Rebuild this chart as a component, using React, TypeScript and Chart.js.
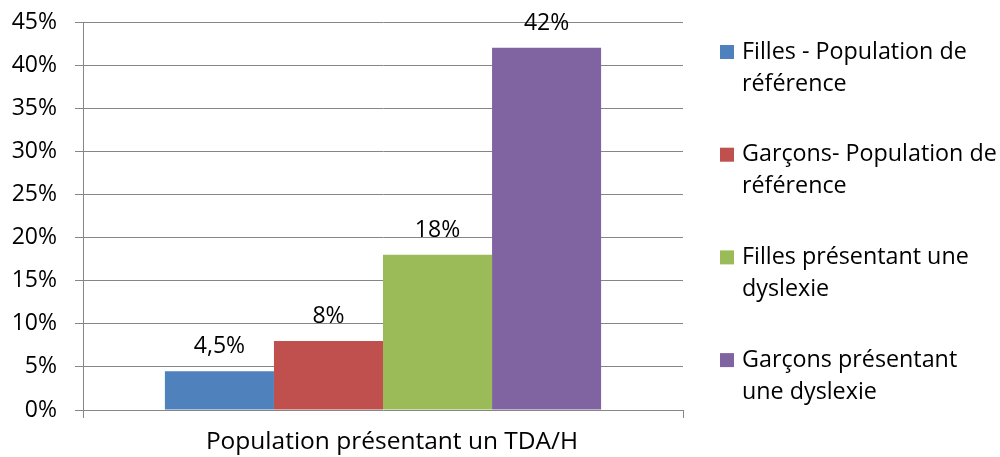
import React, { useEffect, useRef } from "react";
import { Chart, registerables } from "chart.js";

Chart.register(...registerables);

const categories = ["Population présentant un TDA/H"];
const seriesLabels = [
  ["Filles - Population de", "référence"],
  ["Garçons- Population de", "référence"],
  ["Filles présentant une", "dyslexie"],
  ["Garçons présentant", "une dyslexie"],
];
const seriesValues = [4.5, 8, 18, 42];
const valueLabels = ["4,5%", "8%", "18%", "42%"];
const seriesColors = ["#4F81BD", "#C0504D", "#9BBB59", "#8064A2"];
const yTicks = [0, 5, 10, 15, 20, 25, 30, 35, 40, 45];

const FONT = "'Open Sans', Lato, sans-serif";
const FS = 23;
const FS_LEGEND = 23.3;
const FS_X = 24.5;

const valueLabelPlugin = {
  id: "valueLabels",
  afterDatasetsDraw(chart: any) {
    const ctx = chart.ctx;
    ctx.save();
    ctx.font = `${FS}px ${FONT}`;
    ctx.fillStyle = "#000";
    ctx.textAlign = "center";
    ctx.textBaseline = "alphabetic";
    chart.data.datasets.forEach((ds: any, i: number) => {
      const meta = chart.getDatasetMeta(i);
      meta.data.forEach((bar: any) => {
        ctx.fillText(valueLabels[i], bar.x, bar.y - 18);
      });
    });
    ctx.restore();
  },
};

const categoryLabelPlugin = {
  id: "categoryLabel",
  afterDraw(chart: any) {
    const ctx = chart.ctx;
    const xs = chart.scales.x;
    ctx.save();
    ctx.font = `${FS_X}px ${FONT}`;
    ctx.fillStyle = "#000";
    ctx.textAlign = "center";
    ctx.textBaseline = "alphabetic";
    categories.forEach((c, i) => {
      ctx.fillText(c, xs.getPixelForValue(i) + 9, chart.chartArea.bottom + 39);
    });
    ctx.restore();
  },
};

const legendPlugin = {
  id: "sideLegend",
  afterDraw(chart: any) {
    const ctx = chart.ctx;
    ctx.save();
    ctx.font = `${FS_LEGEND}px ${FONT}`;
    ctx.textBaseline = "middle";
    ctx.textAlign = "left";
    chart.data.datasets.forEach((ds: any, i: number) => {
      const y0 = 52 + i * 102.7;
      ctx.fillStyle = ds.backgroundColor;
      ctx.fillRect(720, y0 - 7, 14, 14);
      ctx.fillStyle = "#000";
      (ds.label as string[]).forEach((line: string, j: number) => {
        ctx.fillText(line, 742, y0 + j * 32);
      });
    });
    ctx.restore();
  },
};

export default function App() {
  const ref = useRef<HTMLCanvasElement>(null);
  useEffect(() => {
    if (!ref.current) return;
    const chart = new Chart(ref.current, {
      type: "bar",
      data: {
        labels: categories,
        datasets: seriesValues.map((v, i) => ({
          label: seriesLabels[i] as any,
          data: [v],
          backgroundColor: seriesColors[i],
          borderWidth: 0,
          barPercentage: 1,
          categoryPercentage: 0.727,
        })),
      },
      options: {
        animation: false,
        responsive: true,
        maintainAspectRatio: false,
        layout: { padding: { left: 0, right: 317, top: 22, bottom: 39 } },
        plugins: {
          legend: { display: false },
          tooltip: { enabled: false },
        },
        scales: {
          x: {
            offset: true,
            grid: {
              offset: true,
              drawOnChartArea: false,
              drawTicks: true,
              tickLength: 8,
              color: "#868686",
              lineWidth: 1,
            },
            border: { display: false },
            ticks: { display: false },
            afterFit: (axis: any) => {
              axis.height = 8;
              axis.paddingLeft = 0;
              axis.paddingRight = 0;
              axis.paddingTop = 0;
              axis.paddingBottom = 0;
            },
          },
          y: {
            min: 0,
            max: 45,
            afterBuildTicks: (axis: any) => {
              axis.ticks = yTicks.map((v) => ({ value: v }));
            },
            afterFit: (axis: any) => {
              axis.width = 83;
              axis.paddingTop = 0;
              axis.paddingBottom = 0;
            },
            grid: {
              color: "#868686",
              lineWidth: 1,
              drawTicks: true,
              tickLength: 8,
            },
            border: { display: true, color: "#868686", width: 1 },
            ticks: {
              color: "#000",
              font: { family: FONT, size: FS },
              padding: 18,
              callback: (v: any) => `${v}%`,
            },
          },
        },
      },
      plugins: [valueLabelPlugin, categoryLabelPlugin, legendPlugin],
    });
    return () => chart.destroy();
  }, []);
  return (
    <div style={{ position: "fixed", left: 0, top: 0, width: 1000, height: 457, background: "#fff" }}>
      <canvas ref={ref} />
    </div>
  );
}
